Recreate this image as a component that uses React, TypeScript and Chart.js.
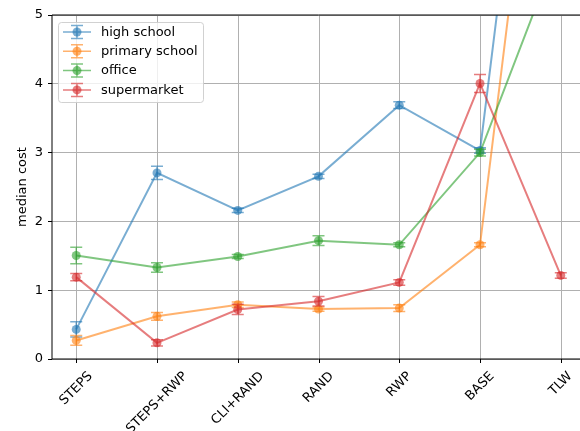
import React, { useEffect, useRef } from 'react';
import { Chart, registerables } from 'chart.js';

Chart.register(...registerables);

// Benchmark categories along the x axis
const categories = ['STEPS', 'STEPS+RWP', 'CLI+RAND', 'RAND', 'RWP', 'BASE', 'TLW'];
const yTickValues = [0, 1, 2, 3, 4, 5];

const seriesNames = ['high school', 'primary school', 'office', 'supermarket'];
const seriesColors = ['31,119,180', '255,127,14', '44,160,44', '214,39,40'];

// Median cost per benchmark, and the spread shown as error bars
const highSchool = [0.43, 2.705, 2.16, 2.655, 3.69, 3.03, 12.5];
const highSchoolErr = [0.11, 0.095, 0.03, 0.03, 0.05, 0.04, 0.3];
const primarySchool = [0.27, 0.62, 0.79, 0.725, 0.74, 1.66, 11.2];
const primarySchoolErr = [0.07, 0.056, 0.04, 0.03, 0.05, 0.03, 0.3];
const office = [1.505, 1.33, 1.49, 1.72, 1.66, 3.0, 6.06];
const officeErr = [0.12, 0.07, 0.03, 0.07, 0.03, 0.05, 0.2];
const supermarket = [1.19, 0.235, 0.72, 0.84, 1.113, 4.005, 1.215];
const supermarketErr = [0.054, 0.045, 0.075, 0.068, 0.04, 0.13, 0.04];

const seriesValues = [highSchool, primarySchool, office, supermarket];
const seriesErrors = [highSchoolErr, primarySchoolErr, officeErr, supermarketErr];

const FONT = "'DejaVu Sans', sans-serif";
const CAP = 6;

// vertical grid lines and tick marks at each category
const categoryGridPlugin = {
  id: 'categoryGrid',
  beforeDatasetsDraw(chart: any) {
    const { ctx, chartArea } = chart;
    const xs = chart.scales.x;
    ctx.save();
    categories.forEach((_, i) => {
      const x = Math.round(xs.getPixelForValue(i)) + 0.5;
      ctx.strokeStyle = '#b0b0b0';
      ctx.lineWidth = 1;
      ctx.beginPath();
      ctx.moveTo(x, chartArea.top);
      ctx.lineTo(x, chartArea.bottom);
      ctx.stroke();
      ctx.strokeStyle = '#000';
      ctx.beginPath();
      ctx.moveTo(x, chartArea.bottom);
      ctx.lineTo(x, chartArea.bottom + 4);
      ctx.stroke();
    });
    ctx.restore();
  },
};

const errorBarPlugin = {
  id: 'errorBars',
  afterDatasetDraw(chart: any, args: any) {
    const ds: any = chart.data.datasets[args.index];
    const errs: number[] = ds.errors;
    if (!errs) return;
    const { ctx, chartArea } = chart;
    const xs = chart.scales.x;
    const ys = chart.scales.y;
    ctx.save();
    ctx.beginPath();
    ctx.rect(chartArea.left, chartArea.top, chartArea.right - chartArea.left, chartArea.bottom - chartArea.top);
    ctx.clip();
    ctx.strokeStyle = ds.borderColor;
    ctx.lineWidth = 1.5;
    ds.data.forEach((p: any, i: number) => {
      const x = xs.getPixelForValue(p.x);
      const y1 = ys.getPixelForValue(p.y - errs[i]);
      const y2 = ys.getPixelForValue(p.y + errs[i]);
      ctx.beginPath();
      ctx.moveTo(x, y1);
      ctx.lineTo(x, y2);
      ctx.moveTo(x - CAP, y1);
      ctx.lineTo(x + CAP, y1);
      ctx.moveTo(x - CAP, y2);
      ctx.lineTo(x + CAP, y2);
      ctx.stroke();
    });
    ctx.restore();
  },
};

const decorPlugin = {
  id: 'decor',
  afterDatasetsDraw(chart: any) {
    const { ctx, chartArea } = chart;
    const { left, right, top, bottom } = chartArea;
    ctx.save();
    // axes frame (left, top, bottom)
    ctx.strokeStyle = '#000';
    ctx.lineWidth = 1;
    ctx.beginPath();
    ctx.moveTo(right, bottom);
    ctx.lineTo(left, bottom);
    ctx.lineTo(left, top);
    ctx.lineTo(right, top);
    ctx.stroke();

    // rotated category labels
    const xs = chart.scales.x;
    ctx.font = `13px ${FONT}`;
    ctx.fillStyle = '#000';
    ctx.textAlign = 'center';
    ctx.textBaseline = 'middle';
    const h = 15;
    categories.forEach((label, i) => {
      const x = xs.getPixelForValue(i);
      const w = ctx.measureText(label).width;
      const half = ((w + h) * Math.SQRT1_2) / 2;
      ctx.save();
      ctx.translate(x, bottom + 10 + half);
      ctx.rotate(-Math.PI / 4);
      ctx.fillText(label, 0, 0);
      ctx.restore();
    });

    // y axis title
    ctx.save();
    ctx.translate(23, (top + bottom) / 2);
    ctx.rotate(-Math.PI / 2);
    ctx.fillText('median cost', 0, 0);
    ctx.restore();

    // legend
    const lx = 58.5, ly = 22.5, lw = 145, lh = 80;
    ctx.beginPath();
    ctx.roundRect(lx, ly, lw, lh, 3);
    ctx.fillStyle = 'rgba(255,255,255,0.8)';
    ctx.fill();
    ctx.strokeStyle = 'rgba(204,204,204,0.9)';
    ctx.lineWidth = 1;
    ctx.stroke();
    seriesNames.forEach((name, i) => {
      const cy = 32 + i * 19.3;
      const col = `rgba(${seriesColors[i]},0.6)`;
      ctx.strokeStyle = col;
      ctx.lineWidth = 1.5;
      ctx.beginPath();
      ctx.moveTo(63, cy);
      ctx.lineTo(91, cy);
      ctx.moveTo(77, cy - 6.5);
      ctx.lineTo(77, cy + 6.5);
      ctx.moveTo(77 - CAP, cy - 6.5);
      ctx.lineTo(77 + CAP, cy - 6.5);
      ctx.moveTo(77 - CAP, cy + 6.5);
      ctx.lineTo(77 + CAP, cy + 6.5);
      ctx.stroke();
      ctx.fillStyle = col;
      ctx.beginPath();
      ctx.arc(77, cy, 4.5, 0, Math.PI * 2);
      ctx.fill();
      ctx.fillStyle = '#000';
      ctx.textAlign = 'left';
      ctx.fillText(name, 101, cy + 0.5);
    });
    ctx.restore();
  },
};

export default function App() {
  const ref = useRef<HTMLCanvasElement>(null);

  useEffect(() => {
    if (!ref.current) return;
    const datasets = seriesNames.map((name, s) => {
      const col = `rgba(${seriesColors[s]},0.6)`;
      return {
        label: name,
        data: seriesValues[s].map((v, i) => ({ x: i, y: v })),
        errors: seriesErrors[s],
        borderColor: col,
        backgroundColor: col,
        pointBackgroundColor: col,
        pointBorderWidth: 0,
        pointRadius: 4.5,
        borderWidth: 2,
        order: seriesNames.length - 1 - s,
        tension: 0,
      };
    });
    const chart = new Chart(ref.current, {
      type: 'line',
      data: { datasets: datasets as any },
      options: {
        animation: false,
        responsive: false,
        devicePixelRatio: 1,
        layout: { padding: { left: 0, top: 15, right: 15, bottom: 0 } },
        plugins: { legend: { display: false }, tooltip: { enabled: false } },
        scales: {
          x: {
            type: 'linear',
            min: -0.3,
            max: 6.3,
            afterBuildTicks: (scale: any) => {
              scale.ticks = categories.map((_, i) => ({ value: i }));
            },
            afterFit: (scale: any) => {
              scale.height = 72;
            },
            ticks: { display: false },
            border: { display: false },
            grid: { display: false },
          },
          y: {
            type: 'linear',
            min: 0,
            max: 5,
            afterBuildTicks: (scale: any) => {
              scale.ticks = yTickValues.map((v) => ({ value: v }));
            },
            afterFit: (scale: any) => {
              scale.width = 52;
            },
            ticks: {
              font: { family: FONT, size: 13 },
              color: '#000',
              padding: 5,
            },
            border: { display: false },
            grid: {
              color: '#b0b0b0',
              lineWidth: 1,
              drawTicks: true,
              tickLength: 4,
              tickColor: '#000',
            },
          },
        },
      },
      plugins: [categoryGridPlugin, errorBarPlugin, decorPlugin],
    });
    return () => chart.destroy();
  }, []);

  return (
    <div
      style={{
        position: 'absolute',
        left: 0,
        top: 0,
        width: 580,
        height: 431,
        overflow: 'hidden',
        background: '#fff',
      }}
    >
      <canvas ref={ref} width={600} height={431} style={{ width: 600, height: 431 }} />
    </div>
  );
}
